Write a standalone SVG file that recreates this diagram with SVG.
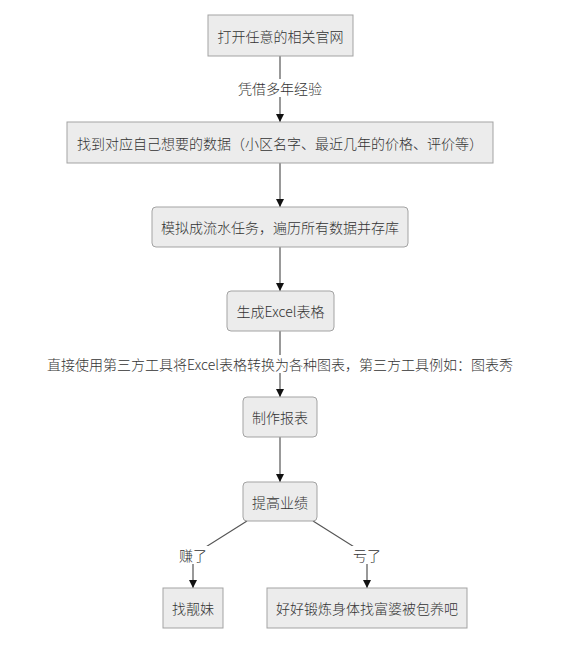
<svg xmlns="http://www.w3.org/2000/svg" width="561" height="666" viewBox="0 0 561 666">
<style>
.box{fill:#ececec;stroke:#a3a3a3;stroke-width:1}
.t{font-family:"Noto Sans CJK SC","Noto Sans",sans-serif;font-size:14px;font-weight:300;fill:#333;text-anchor:middle;dominant-baseline:central}
.e{fill:none;stroke:#555;stroke-width:1.2}
.lb{fill:#fff}
</style>
<defs>
<marker id="ah" markerUnits="userSpaceOnUse" markerWidth="10" markerHeight="10" refX="9" refY="5" orient="auto">
<path d="M1,1 L9,5 L1,9 Z" fill="#111"/>
</marker>
</defs>
<rect width="561" height="666" fill="#fff"/>
<g id="edges">
<line class="e" x1="280" y1="56" x2="280" y2="122" marker-end="url(#ah)"/>
<line class="e" x1="280" y1="163" x2="280" y2="207" marker-end="url(#ah)"/>
<line class="e" x1="280" y1="247" x2="280" y2="291" marker-end="url(#ah)"/>
<line class="e" x1="280" y1="331" x2="280" y2="397" marker-end="url(#ah)"/>
<line class="e" x1="280" y1="437" x2="280" y2="482" marker-end="url(#ah)"/>
<polyline class="e" points="247,521 193,555 193,588" marker-end="url(#ah)"/>
<polyline class="e" points="313,521 367,555 367,588" marker-end="url(#ah)"/>
<rect class="lb" x="236" y="79" width="88" height="18"/>
<text class="t" x="280" y="88">凭借多年经验</text>
<rect class="lb" x="44" y="355" width="472" height="18"/>
<text class="t" x="280" y="364">直接使用第三方工具将Excel表格转换为各种图表，第三方工具例如：图表秀</text>
<rect class="lb" x="176" y="546" width="34" height="18"/>
<text class="t" x="193" y="555">赚了</text>
<rect class="lb" x="350" y="546" width="34" height="18"/>
<text class="t" x="367" y="555">亏了</text>
</g>
<g id="n1"><rect class="box" x="208" y="15" width="145" height="41"/><text class="t" x="280.5" y="35.5">打开任意的相关官网</text></g>
<g id="n2"><rect class="box" x="67" y="122" width="426" height="41"/><text class="t" x="280" y="142.5">找到对应自己想要的数据（小区名字、最近几年的价格、评价等）</text></g>
<g id="n3"><rect class="box" x="152" y="207" width="256" height="40" rx="4"/><text class="t" x="280" y="227">模拟成流水任务，遍历所有数据并存库</text></g>
<g id="n4"><rect class="box" x="227" y="291" width="107" height="40" rx="4"/><text class="t" x="280.5" y="311">生成Excel表格</text></g>
<g id="n5"><rect class="box" x="243" y="397" width="74" height="40" rx="4"/><text class="t" x="280" y="417">制作报表</text></g>
<g id="n6"><rect class="box" x="243" y="482" width="74" height="39" rx="4"/><text class="t" x="280" y="501.5">提高业绩</text></g>
<g id="n7"><rect class="box" x="163" y="588" width="60" height="40"/><text class="t" x="193" y="608">找靓妹</text></g>
<g id="n8"><rect class="box" x="267" y="588" width="200" height="40"/><text class="t" x="367" y="608">好好锻炼身体找富婆被包养吧</text></g>
</svg>
